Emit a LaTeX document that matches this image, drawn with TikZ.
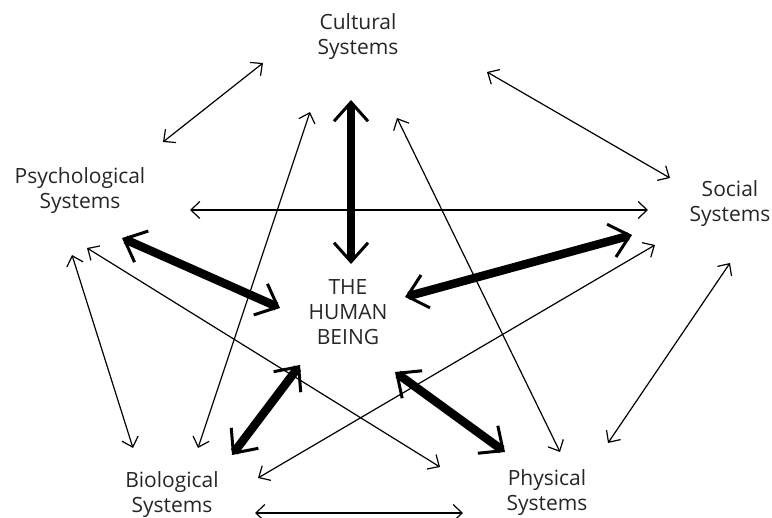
\documentclass[tikz,border=0pt]{standalone}
\usepackage{fontspec}
\setmainfont{Open Sans}
\usetikzlibrary{arrows.meta,calc}

\begin{document}
\begin{tikzpicture}[x=1pt,y=-1pt,
  sys/.style={align=center,text=black!85,font=\fontsize{21}{25}\selectfont},
  link/.style={line width=1.2pt,{Straight Barb[length=9pt,width=17pt]}-{Straight Barb[length=9pt,width=17pt]}},
  mainlink/.style={line width=8.5pt,{Straight Barb[length=19pt,width=34pt,line width=3pt]}-{Straight Barb[length=19pt,width=34pt,line width=3pt]}}]

  \useasboundingbox (0,0) rectangle (772,518);

  \node[sys] (cul) at (358,37) {Cultural\\Systems};
  \node[sys] (psy) at (80,191) {Psychological\\Systems};
  \node[sys] (soc) at (730,204) {Social\\Systems};
  \node[sys] (hum) at (348,312) {THE\\HUMAN\\BEING};
  \node[sys] (bio) at (172,495) {Biological\\Systems};
  \node[sys] (phy) at (547,493) {Physical\\Systems};

  % thin links round the outside
  \draw[link] ($(cul)+(-95,26)$) -- ($(psy)+(83,-49)$);
  \draw[link] ($(cul)+(129,35)$) -- ($(soc)+(-60,-26)$);
  \draw[link] ($(psy)+(110,19)$) -- ($(soc)+(-82,6)$);
  \draw[link] ($(psy)+(-8,64)$) -- ($(bio)+(-39,-47)$);
  \draw[link] ($(psy)+(7,57)$) -- ($(phy)+(-107,-26)$);
  \draw[link] ($(cul)+(-48,75)$) -- ($(bio)+(26,-47)$);
  \draw[link] ($(cul)+(39,81)$) -- ($(phy)+(13,-41)$);
  \draw[link] ($(soc)+(-75,41)$) -- ($(bio)+(86,-17)$);
  \draw[link] ($(soc)+(0,59)$) -- ($(phy)+(61,-50)$);
  \draw[link] ($(bio)+(83,18)$) -- ($(phy)+(-84,20)$);

  % thick links to the centre
  \draw[mainlink] ($(cul)+(-7,63)$) -- ($(hum)+(3,-48)$);
  \draw[mainlink] ($(psy)+(42,47)$) -- ($(hum)+(-68,-4)$);
  \draw[mainlink] ($(soc)+(-98,31)$) -- ($(hum)+(57,-15)$);
  \draw[mainlink] ($(bio)+(60,-40)$) -- ($(hum)+(-48,53)$);
  \draw[mainlink] ($(phy)+(-42,-41)$) -- ($(hum)+(47,60)$);

\end{tikzpicture}
\end{document}
